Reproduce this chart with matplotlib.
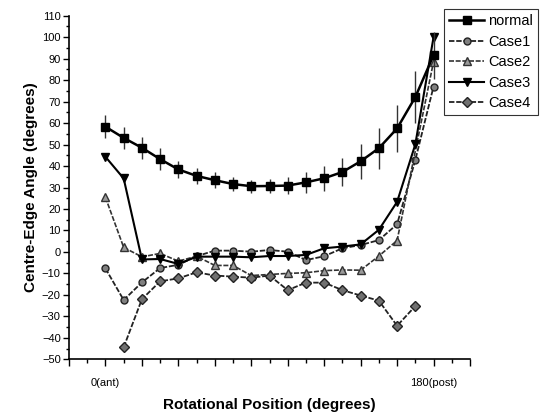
import numpy as np
import matplotlib
matplotlib.use("Agg")
import matplotlib.pyplot as plt
from matplotlib.ticker import MultipleLocator, FuncFormatter

plt.rcParams['font.family'] = ['Liberation Sans', 'DejaVu Sans']

# rotational positions, 0 (ant) to 180 (post) in 10 degree steps
pos = list(range(0, 190, 10))

normal = [58.3, 53.1, 48.5, 43.2, 38.4, 35.4, 33.4, 31.6, 30.6, 30.7,
          30.9, 32.4, 34.3, 37.2, 42.2, 48.3, 57.5, 72.1, 91.6]
normal_err = [5.3, 5.3, 5.0, 5.0, 3.9, 3.7, 3.7, 3.3, 3.1, 3.3,
              4.0, 4.9, 5.8, 6.5, 8.2, 9.5, 11.0, 12.2, 10.9]

case1 = [-7.7, -22.4, -14.2, -7.5, -6.0, -2.0, 0.6, 0.6, 0.1, 0.9,
         0.1, -3.8, -2.0, 1.7, 3.2, 5.5, 12.9, 42.8, 77.0]

pos_case2 = [0, 10, 20, 30, 40, 50, 60, 70, 80, 90, 100, 110, 120, 130, 140, 150, 160, 180]
case2 = [25.4, 2.1, -2.3, -0.7, -4.3, -2.0, -6.3, -6.3, -11.0, -10.5,
         -10.0, -9.7, -8.7, -8.4, -8.5, -1.9, 5.3, 88.6]

case3 = [44.3, 34.2, -3.5, -3.3, -5.6, -2.2, -2.2, -2.2, -2.5, -1.9,
         -1.9, -1.4, 1.7, 2.5, 3.5, 10.3, 23.3, 50.1, 100.0]

pos_case4 = list(range(10, 180, 10))
case4 = [-44.4, -22.0, -13.7, -12.3, -9.5, -11.0, -11.5, -12.0, -11.0,
         -17.8, -14.3, -14.3, -17.8, -20.3, -22.7, -34.4, -25.2]

xlabels = {0: '0(ant)', 180: '180(post)'}

fig = plt.figure(figsize=(5.44, 4.18), dpi=100)
ax = fig.add_axes([69/544, 1-359.3/418, (470-69)/544, (359.3-15.7)/418])

ax.errorbar(pos, normal, yerr=normal_err, fmt='none', ecolor='#333333',
            elinewidth=1, capsize=0, zorder=4)
h0, = ax.plot(pos, normal, color='black', lw=1.8, marker='s', ms=5.5,
              mfc='black', mec='black', label='normal', zorder=5)
dash = (0, (3, 1))
h1, = ax.plot(pos, case1, color='#222222', lw=1.3, ls=dash, marker='o', ms=5,
              mfc='#808080', mec='#222222', label='Case1')
h2, = ax.plot(pos_case2, case2, color='#333333', lw=1.2, ls=dash, marker='^', ms=5.5,
              mfc='#9a9a9a', mec='#333333', label='Case2')
h3, = ax.plot(pos, case3, color='black', lw=1.5, marker='v', ms=6,
              mfc='black', mec='black', label='Case3')
h4, = ax.plot(pos_case4, case4, color='#222222', lw=1.3, ls=dash, marker='D', ms=5,
              mfc='#707070', mec='#222222', label='Case4')

ax.set_xlim(-20, 200)
ax.set_ylim(-50, 110)
ax.spines['top'].set_visible(False)
ax.spines['right'].set_visible(False)
ax.spines['left'].set_linewidth(1.2)
ax.spines['bottom'].set_linewidth(1.2)

ax.xaxis.set_major_locator(MultipleLocator(20))
ax.xaxis.set_minor_locator(MultipleLocator(10))
ax.xaxis.set_major_formatter(FuncFormatter(lambda v, p: xlabels.get(int(round(v)), '')))
ax.yaxis.set_major_locator(MultipleLocator(10))
ax.yaxis.set_minor_locator(MultipleLocator(5))
ax.tick_params(axis='x', which='major', direction='out', length=5, width=1, pad=8.5, labelsize=8)
ax.tick_params(axis='x', which='minor', direction='out', length=3, width=1)
ax.tick_params(axis='y', which='major', direction='out', length=4, width=1, pad=2, labelsize=8)
ax.tick_params(axis='y', which='minor', direction='out', length=2, width=1)

ax.set_xlabel('Rotational Position (degrees)', fontsize=11, fontweight='bold', labelpad=7)
ax.set_ylabel('Centre-Edge Angle (degrees)', fontsize=11, fontweight='bold', labelpad=3)

leg = ax.legend(handles=[h0, h1, h2, h3, h4], loc='upper left',
                bbox_to_anchor=(444/544, 1-9/418),
                bbox_transform=fig.transFigure, fontsize=10.5, frameon=True,
                fancybox=False, handlelength=2.4, borderpad=0.35,
                labelspacing=0.45, handletextpad=0.3, borderaxespad=0)
leg.get_frame().set_edgecolor('black')
leg.get_frame().set_linewidth(0.8)

fig.savefig('out.png', dpi=100)
